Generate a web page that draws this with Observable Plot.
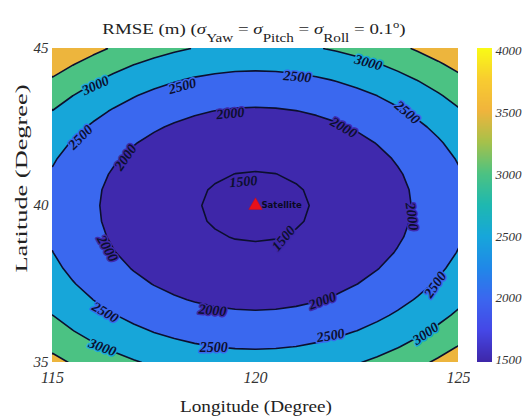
<!DOCTYPE html>
<html>
<head>
<meta charset="utf-8">
<script src="https://cdn.jsdelivr.net/npm/d3@7"></script>
<script src="https://cdn.jsdelivr.net/npm/@observablehq/plot@0.6"></script>
<style>
  body { margin: 0; background: #fff; }
  #wrap { position: relative; width: 525px; height: 416px; overflow: hidden; background: #fff;
          font-family: "Liberation Serif", "Times New Roman", serif; color: #222; }
  #wrap svg { font-family: "Liberation Serif", "Times New Roman", serif; }
  #title { position: absolute; left: 0; width: 508px; top: 22px; text-align: center;
           font-size: 15px; line-height: 15px; white-space: nowrap; transform: scaleX(1.26); }
  #title .s { font-style: italic; }
  #title .sub { font-size: 12px; position: relative; top: 8px; }
  #title .sup { font-size: 10px; position: relative; top: -6px; }
  #main { position: absolute; left: 0; top: 0; }
  #cbar { position: absolute; left: 470px; top: 0; }
  #xlab { position: absolute; left: 0; width: 512px; top: 399px; text-align: center; font-size: 16px; line-height: 16px;
          transform: scaleX(1.2); }
  #ylab { position: absolute; left: -79px; top: 170px; width: 200px; text-align: center; font-size: 17px; line-height: 17px;
          transform: rotate(-90deg) scaleX(1.55); }
</style>
</head>
<body>
<div id="wrap">
  <div id="main"></div>
  <div id="cbar"></div>
  <div id="title">RMSE (m) (<span class="s">σ</span><span class="sub">Yaw</span> = <span class="s">σ</span><span class="sub">Pitch</span> = <span class="s">σ</span><span class="sub">Roll</span> = 0.1<span class="sup">o</span>)</div>
  <div id="xlab">Longitude (Degree)</div>
  <div id="ylab">Latitude (Degree)</div>
</div>
<script>
// ---- data ----
const lons = [115,115.5,116,116.5,117,117.5,118,118.5,119,119.5,120,120.5,121,121.5,122,122.5,123,123.5,124,124.5,125];
const lats = [45,44.5,44,43.5,43,42.5,42,41.5,41,40.5,40,39.5,39,38.5,38,37.5,37,36.5,36,35.5,35];
// RMSE (m) on the grid, one row per latitude (45 -> 35), columns lon 115 -> 125
const rmse = [
  [4045,3824,3626,3451,3299,3171,3066,2985,2927,2892,2880,2891,2922,2975,3048,3143,3259,3396,3554,3733,3933],
  [3732,3517,3326,3157,3010,2886,2785,2706,2650,2616,2605,2615,2646,2698,2770,2863,2977,3112,3267,3444,3640],
  [3451,3243,3058,2894,2751,2631,2533,2456,2402,2369,2358,2368,2399,2450,2521,2613,2726,2858,3011,3185,3379],
  [3204,3002,2821,2661,2523,2406,2311,2236,2183,2151,2140,2151,2181,2231,2302,2392,2503,2634,2786,2957,3148],
  [2989,2792,2616,2460,2325,2211,2118,2045,1993,1962,1952,1962,1992,2042,2111,2201,2311,2440,2590,2759,2949],
  [2808,2615,2442,2290,2158,2046,1955,1884,1833,1803,1792,1802,1832,1881,1950,2039,2148,2276,2424,2592,2779],
  [2659,2470,2300,2151,2021,1911,1822,1752,1702,1672,1662,1672,1701,1750,1819,1907,2014,2142,2289,2455,2641],
  [2544,2357,2190,2042,1914,1806,1718,1649,1600,1570,1560,1570,1599,1648,1716,1804,1911,2037,2183,2349,2533],
  [2461,2276,2111,1965,1838,1731,1644,1576,1527,1498,1488,1498,1527,1575,1643,1730,1837,1963,2108,2273,2456],
  [2412,2228,2063,1918,1793,1686,1599,1532,1483,1454,1444,1454,1483,1531,1599,1686,1792,1918,2063,2227,2410],
  [2395,2212,2048,1903,1777,1671,1584,1517,1469,1440,1430,1440,1469,1517,1584,1671,1777,1903,2048,2212,2395],
  [2407,2224,2060,1915,1790,1684,1597,1530,1481,1452,1443,1452,1481,1530,1597,1684,1791,1916,2061,2225,2409],
  [2445,2262,2098,1953,1828,1722,1635,1568,1520,1491,1481,1491,1520,1568,1636,1723,1830,1956,2101,2266,2450],
  [2507,2324,2161,2016,1891,1785,1699,1631,1583,1554,1545,1555,1584,1633,1701,1789,1896,2023,2169,2335,2520],
  [2594,2412,2248,2104,1980,1874,1788,1720,1672,1644,1634,1644,1673,1722,1791,1880,1988,2116,2263,2430,2617],
  [2706,2524,2361,2218,2093,1988,1902,1835,1787,1758,1749,1759,1788,1838,1908,1997,2106,2235,2384,2553,2742],
  [2843,2662,2499,2356,2232,2127,2042,1975,1927,1899,1889,1899,1929,1979,2050,2140,2251,2382,2533,2703,2895],
  [3004,2824,2663,2520,2397,2292,2207,2140,2093,2064,2055,2065,2096,2147,2218,2310,2422,2555,2708,2881,3075],
  [3191,3011,2851,2709,2586,2482,2397,2331,2284,2255,2246,2256,2287,2339,2412,2505,2619,2754,2910,3086,3283],
  [3402,3224,3064,2923,2801,2698,2613,2547,2500,2472,2463,2473,2505,2558,2632,2727,2843,2980,3139,3318,3519],
  [3639,3461,3303,3163,3041,2938,2854,2789,2742,2714,2705,2716,2748,2802,2877,2974,3093,3233,3395,3578,3782]
];
const levels = [1500, 2000, 2500, 3000, 3500];
const xTicks = [115, 120, 125];
const yTicks = [35, 40, 45];
const cbTicks = [1500, 2000, 2500, 3000, 3500, 4000];
const colorRange = [1480, 4020];
const satellite = [{lon: 120, lat: 40, name: "Satellite"}];
// contour labels: level, position on the line (lon, lat), text angle
const labelLevel = [3000,2500,2000,2500,2000,1500,2500,3000,2500,2000,2000,1500,2000,2500,3000,2000,2500,2000,2500,2500,3000];
const labelLon   = [116.06,115.69,116.8,118.2,119.38,119.7,121.03,122.78,123.74,122.17,123.85,120.69,116.35,116.3,116.23,118.94,118.97,121.65,121.85,124.43,124.19];
const labelLat   = [43.82,42.17,41.53,43.8,42.93,40.76,44.1,44.55,42.96,42.48,39.65,38.95,38.63,36.6,35.48,36.66,35.48,36.97,35.86,37.48,35.92];
const labelAngle = [-25,-45,-55,-15,-5,-5,5,15,40,30,82,-50,60,30,20,5,0,-20,-10,-55,-35];

// ---- build ----
const SERIF = '"Liberation Serif", "Times New Roman", serif';
const values = rmse.flat();
const half = (lons[1] - lons[0]) / 2;
const labels = labelLevel.map((v, i) => ({level: v, lon: labelLon[i], lat: labelLat[i], angle: labelAngle[i]}));

const parula = d3.piecewise(d3.interpolateRgb, [
  "#3e26a8", "#4547e6", "#3b66ef", "#2088e8", "#17a6da", "#1eb8b0",
  "#4cc282", "#a6c14a", "#f0b43c", "#f8cc30", "#f9fb15"
]);
const colorScale = {type: "linear", domain: colorRange, interpolate: () => parula, clamp: true};

const grid = {
  width: lons.length, height: lats.length,
  x1: lons[0] - half, x2: lons[lons.length - 1] + half,
  y1: lats[0] + half, y2: lats[lats.length - 1] - half,
  clip: true
};

const main = Plot.plot({
  width: 470, height: 416,
  marginLeft: 52, marginRight: 12, marginTop: 48, marginBottom: 54,
  style: {fontFamily: SERIF, fontSize: "16px", color: "#333", background: "transparent"},
  x: {domain: [115, 125]},
  y: {domain: [35, 45]},
  color: colorScale,
  marks: [
    Plot.contour(values, {...grid, fill: Plot.identity, thresholds: [1000, ...levels]}),
    Plot.contour(values, {...grid, value: Plot.identity, thresholds: levels, fill: "none", stroke: "#0c0f2e", strokeWidth: 1.6}),
    Plot.text(labels, {x: "lon", y: "lat", text: d => String(d.level), rotate: "angle",
      fill: "#0c0f2e", stroke: d => d.level - 500, strokeWidth: 3,
      fontFamily: SERIF, fontSize: 14, fontWeight: "bold", fontStyle: "italic"}),
    Plot.dot(satellite, {x: "lon", y: "lat", symbol: "triangle", r: 5, fill: "#e8101a", stroke: "#c0101a", strokeWidth: 0.5}),
    Plot.text(satellite, {x: "lon", y: "lat", text: "name", dx: 6, textAnchor: "start",
      fontFamily: "DejaVu Sans, sans-serif", fontSize: 8.5, fontWeight: "bold", fill: "#0a0a22"}),
    Plot.axisX(xTicks, {tickSize: 0, tickPadding: 9, fontFamily: SERIF, fontStyle: "italic", fontSize: 16, label: null}),
    Plot.axisY(yTicks, {tickSize: 0, tickPadding: 4, fontFamily: SERIF, fontStyle: "italic", fontSize: 15, label: null})
  ]
});
document.getElementById("main").append(main);

const cbStep = 4;
const stops = d3.range(colorRange[0], colorRange[1], cbStep);
const cbar = Plot.plot({
  width: 55, height: 416,
  marginLeft: 7, marginRight: 33, marginTop: 48, marginBottom: 54,
  style: {fontFamily: SERIF, fontSize: "13px", color: "#333", background: "transparent"},
  x: {domain: [0, 1], axis: null},
  y: {domain: colorRange},
  color: colorScale,
  marks: [
    Plot.rect(stops, {x1: 0, x2: 1, y1: d => d, y2: d => Math.min(d + cbStep + 0.5, colorRange[1]), fill: d => d + cbStep / 2, shapeRendering: "crispEdges"}),
    Plot.axisY(cbTicks, {anchor: "right", tickSize: 0, tickPadding: 3, tickFormat: d => String(d),
      fontFamily: SERIF, fontStyle: "italic", fontSize: 13, label: null})
  ]
});
document.getElementById("cbar").append(cbar);
</script>
</body>
</html>
